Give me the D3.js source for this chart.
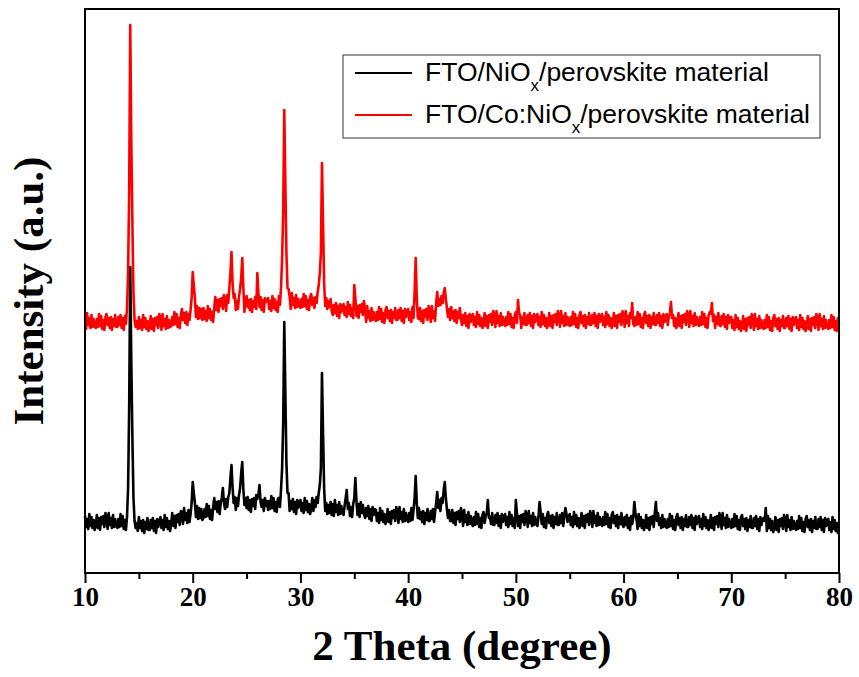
<!DOCTYPE html>
<html>
<head>
<meta charset="utf-8">
<script src="https://cdn.jsdelivr.net/npm/d3@7/dist/d3.min.js"></script>
<style>
  body { margin: 0; background: #fff; }
</style>
</head>
<body>
<script>
// XRD scan, 10-80 deg, 0.1 deg step
var scanStart = 10;
var scanStep = 0.1;

var majorTicks = [10, 20, 30, 40, 50, 60, 70, 80];
var minorTicks = [15, 25, 35, 45, 55, 65, 75];

var seriesColors = ["#000000", "#ff0000"];
var legendLabels = [
  ["FTO/NiO", "x", "/perovskite material"],
  ["FTO/Co:NiO", "x", "/perovskite material"]
];

// red trace is stacked above the black one
var stackOffset = 400;

// FTO/NiOx/perovskite (counts), one row of 10 per degree
var nioCounts = [
  114,92,108,88,118,94,112,90,106,86,      // 10
  94,116,90,110,86,112,98,114,92,120,
  112,88,120,96,110,90,116,92,108,94,
  90,108,92,118,94,114,88,106,86,112,
  170,330,612,420,270,150,104,90,100,84,   // 14
  112,90,104,84,106,80,102,88,110,86,
  86,106,90,110,84,104,80,108,92,104,
  112,90,106,86,116,92,110,88,104,84,
  98,120,94,114,90,116,102,118,96,124,
  122,98,130,106,120,100,126,102,118,140,
  182,160,140,112,134,108,130,110,128,106, // 20
  110,128,112,138,114,134,108,126,106,132,
  150,128,142,122,144,118,140,150,170,140,
  128,148,132,152,160,190,216,170,140,152,
  126,150,134,156,170,200,222,168,136,150,
  130,152,126,146,122,148,134,150,128,156,
  148,156,176,142,132,146,124,150,134,144,
  126,144,128,154,130,150,124,142,122,148,
  150,132,168,210,300,502,360,220,160,160, // 28
  124,144,128,148,122,142,118,146,130,142,
  146,124,140,120,150,126,144,122,138,118, // 30
  128,150,124,146,132,152,140,160,176,210,
  400,280,170,124,140,118,136,120,142,116,
  138,114,146,122,136,116,142,118,134,120,
  116,134,150,166,128,140,114,132,112,138,
  150,190,144,116,138,112,142,120,136,118,
  110,130,114,134,108,128,104,132,116,128,
  126,104,120,100,130,106,124,102,118,98,
  106,128,102,122,98,124,110,126,104,132,
  124,100,132,108,122,102,128,104,120,106,
  102,120,104,130,106,126,150,194,140,110, // 40
  130,108,122,102,124,98,120,106,128,104,
  104,124,108,128,102,122,140,162,130,146,
  124,150,140,166,182,150,128,110,126,104,
  104,126,100,120,96,122,108,124,102,130,
  118,94,126,102,116,96,122,98,114,100,
  94,112,96,122,98,118,92,110,90,116,
  122,100,114,120,146,110,112,98,120,96,
  96,116,100,120,94,114,90,118,102,114,
  118,96,112,92,122,98,116,94,110,90,
  146,120,94,114,90,116,102,118,96,124,    // 50
  116,92,124,100,114,94,120,96,112,98,
  94,112,142,122,98,118,92,110,90,116,
  122,100,114,94,116,90,112,98,120,96,
  96,116,100,120,94,114,130,118,102,114,
  118,96,112,92,122,98,116,94,110,90,
  98,120,94,114,90,116,102,118,96,124,
  116,92,124,100,114,94,120,96,112,98,
  94,112,96,122,98,118,92,110,90,116,
  122,100,114,94,116,90,112,98,120,96,
  92,112,96,116,90,110,86,114,98,110,      // 60
  142,120,108,88,118,94,112,90,106,86,
  94,116,90,110,86,112,98,114,92,120,
  142,104,120,96,110,90,116,92,108,94,
  90,108,92,118,94,114,88,106,86,112,
  118,96,110,90,112,86,108,94,116,92,
  92,112,96,116,90,110,86,114,98,110,
  114,92,108,88,118,94,112,90,106,86,
  94,116,90,110,86,112,98,114,92,120,
  112,88,120,96,110,90,116,92,108,94,
  90,108,92,118,94,114,88,106,86,112,      // 70
  116,94,108,88,110,84,106,92,114,90,
  90,110,94,114,88,108,84,112,96,108,
  110,104,130,84,114,90,108,86,104,82,
  90,112,86,106,82,108,94,110,88,116,
  108,84,116,92,106,86,112,88,104,90,
  86,104,88,114,90,110,84,102,82,108,
  114,92,106,86,108,82,104,90,112,88,
  88,108,92,112,86,106,82,110,94,106,
  108,86,102,82,112,88,106,84,100,80,
  84                                       // 80
];

// FTO/Co:NiOx/perovskite (counts), one row of 10 per degree
var coNioCounts = [
  112,88,120,96,110,90,116,92,108,94,      // 10
  90,108,92,118,94,114,88,106,86,112,
  118,96,110,90,112,86,108,94,116,92,
  92,112,96,116,90,110,86,114,98,130,
  200,360,696,460,300,160,106,92,104,88,   // 14
  112,90,106,86,116,92,110,88,104,84,
  92,114,88,108,84,110,96,112,90,118,
  110,86,118,94,108,88,114,90,106,92,
  94,112,96,122,98,118,92,110,90,116,
  128,106,120,100,122,96,118,106,126,150,
  202,176,150,112,134,108,130,110,128,106, // 20
  130,108,124,104,134,110,128,106,122,102,
  130,152,126,146,122,148,134,150,128,156,
  148,124,156,140,170,200,242,180,150,158,
  126,144,128,154,168,190,230,170,122,148,
  154,132,146,126,148,122,144,132,152,128,
  200,160,132,152,126,146,122,150,142,146,
  150,128,144,124,154,130,148,126,142,122,
  154,136,172,230,320,526,380,240,170,168, // 28
  152,128,160,136,150,130,156,132,148,134,
  130,148,132,158,134,154,128,146,126,152, // 30
  158,136,150,130,152,140,162,176,200,240,
  420,300,180,134,150,128,144,132,148,124,
  116,136,120,140,114,134,110,138,122,134,
  138,116,132,112,142,118,136,114,130,110,
  176,150,114,134,110,136,122,138,116,144,
  126,102,134,110,124,104,130,106,122,108,
  104,122,106,132,108,128,102,120,100,126,
  132,110,124,104,126,100,122,110,130,106,
  106,126,110,130,104,124,100,128,112,124,
  128,106,122,102,132,110,160,230,150,110, // 40
  108,130,104,124,100,126,112,128,106,134,
  126,102,134,110,124,104,140,162,134,148,
  136,154,140,160,170,148,130,112,128,106,
  132,110,124,104,126,100,122,110,130,106,
  96,116,100,120,94,114,90,118,102,114,
  118,96,112,92,122,98,116,94,110,90,
  98,120,94,114,90,116,102,118,96,124,
  116,92,124,100,114,94,120,96,112,98,
  94,112,96,122,98,118,92,110,90,116,
  122,100,146,120,116,90,112,98,120,96,    // 50
  96,116,100,120,94,114,90,118,102,114,
  118,96,112,92,122,98,116,94,110,90,
  98,120,94,114,90,116,102,118,96,124,
  116,92,124,100,114,94,120,96,112,98,
  94,112,96,122,98,118,92,110,90,116,
  122,100,114,94,116,90,112,98,120,96,
  96,116,100,120,94,114,90,118,102,114,
  118,96,112,92,122,98,116,94,110,90,
  98,120,94,114,90,116,102,118,96,124,
  116,92,124,100,114,94,120,110,140,98,    // 60
  94,112,96,122,98,118,92,110,90,116,
  122,100,114,94,116,90,112,98,120,96,
  96,116,100,120,94,114,90,118,102,114,
  118,96,112,120,142,110,116,94,110,90,
  98,120,94,114,90,116,102,118,96,124,
  116,92,124,100,114,94,120,96,112,98,
  94,112,96,122,98,118,92,110,90,116,
  122,118,140,104,116,90,112,98,120,96,
  94,114,98,118,92,112,88,116,100,112,
  112,90,106,86,116,92,110,88,104,84,      // 70
  92,114,88,108,84,110,96,112,90,118,
  110,86,118,94,108,88,114,90,106,92,
  88,106,90,116,92,112,86,104,84,110,
  116,94,108,88,110,84,106,94,114,90,
  90,110,94,114,88,108,84,112,96,108,
  112,90,106,86,116,92,110,88,104,84,
  92,114,88,108,84,110,96,112,90,118,
  110,86,118,94,108,88,114,90,106,92,
  88,106,90,116,92,112,86,104,84,110,
  96                                       // 80
];

var totalWidth = 859;
var totalHeight = 677;
var margin = {top: 9, left: 85, bottom: 104, right: 20};
var width = totalWidth - margin.left - margin.right;
var height = totalHeight - margin.top - margin.bottom;

var svg = d3.select("body")
  .append("svg")
  .attr("width", totalWidth)
  .attr("height", totalHeight)
  .style("display", "block");

svg.append("rect")
  .attr("width", totalWidth)
  .attr("height", totalHeight)
  .attr("fill", "#ffffff");

var g = svg.append("g")
  .attr("transform", "translate(" + margin.left + "," + margin.top + ")");

var xScale = d3.scaleLinear()
  .domain([10, 80])
  .range([0, width]);

var yScale = d3.scaleLinear()
  .domain([0, 1128])
  .range([height, 0]);

var traces = [nioCounts, coNioCounts].map(function(counts, k) {
  return counts.map(function(c, i) {
    return {theta: scanStart + i * scanStep, value: c + k * stackOffset};
  });
});

var lineGen = d3.line()
  .x(function(d) { return xScale(d.theta); })
  .y(function(d) { return yScale(d.value); });

g.selectAll(".trace")
  .data(traces)
  .enter()
  .append("path")
  .attr("class", "trace")
  .attr("d", lineGen)
  .attr("fill", "none")
  .attr("stroke", function(d, i) { return seriesColors[i]; })
  .attr("stroke-width", 2.6)
  .attr("stroke-linejoin", "round");

// minor ticks
var minorAxis = d3.axisBottom(xScale)
  .tickValues(minorTicks)
  .tickSize(6)
  .tickFormat("");
var minorG = g.append("g")
  .attr("transform", "translate(0," + height + ")")
  .call(minorAxis);

// major ticks with labels
var majorAxis = d3.axisBottom(xScale)
  .tickValues(majorTicks)
  .tickSize(10)
  .tickFormat(d3.format("d"));
var majorG = g.append("g")
  .attr("transform", "translate(0," + height + ")")
  .call(majorAxis);

minorG.select(".domain").remove();
majorG.select(".domain").remove();
svg.selectAll(".tick line").attr("stroke", "#000").attr("stroke-width", 2);

majorG.selectAll(".tick text")
  .attr("dy", null)
  .attr("y", 33)
  .attr("fill", "#000")
  .style("font-family", "'Liberation Serif', 'Times New Roman', serif")
  .style("font-weight", "bold")
  .style("font-size", "27px");

// frame
g.append("rect")
  .attr("width", width)
  .attr("height", height)
  .attr("fill", "none")
  .attr("stroke", "#000")
  .attr("stroke-width", 2);

// axis titles
svg.append("text")
  .attr("x", 462)
  .attr("y", 660)
  .attr("text-anchor", "middle")
  .style("font-family", "'Liberation Serif', 'Times New Roman', serif")
  .style("font-weight", "bold")
  .style("font-size", "43px")
  .text("2 Theta (degree)");

svg.append("text")
  .attr("transform", "translate(43,291) rotate(-90)")
  .attr("text-anchor", "middle")
  .style("font-family", "'Liberation Serif', 'Times New Roman', serif")
  .style("font-weight", "bold")
  .style("font-size", "43px")
  .text("Intensity (a.u.)");

// legend
var legend = svg.append("g");
legend.append("rect")
  .attr("x", 343)
  .attr("y", 55)
  .attr("width", 477)
  .attr("height", 83)
  .attr("fill", "#fff")
  .attr("stroke", "#333")
  .attr("stroke-width", 1);

var rows = legend.selectAll(".row")
  .data(legendLabels)
  .enter()
  .append("g")
  .attr("class", "row")
  .attr("transform", function(d, i) { return "translate(0," + (i * 42) + ")"; });

rows.append("line")
  .attr("x1", 355)
  .attr("x2", 412)
  .attr("y1", 73)
  .attr("y2", 73)
  .attr("stroke", function(d, i) { return seriesColors[i]; })
  .attr("stroke-width", 2);

var label = rows.append("text")
  .attr("x", 425)
  .attr("y", 81)
  .style("font-family", "'Liberation Sans', Arial, sans-serif")
  .style("font-size", "26.5px")
  .attr("fill", "#000");

label.append("tspan").text(function(d) { return d[0]; });
label.append("tspan")
  .attr("dy", 10)
  .style("font-size", "17px")
  .text(function(d) { return d[1]; });
label.append("tspan")
  .attr("dy", -10)
  .text(function(d) { return d[2]; });
</script>
</body>
</html>
